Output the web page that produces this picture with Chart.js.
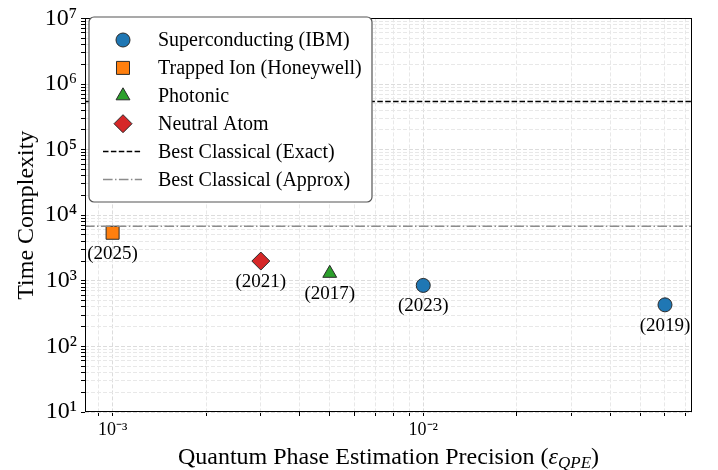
<!DOCTYPE html>
<html>
<head>
<meta charset="utf-8">
<script src="https://cdn.jsdelivr.net/npm/chart.js@4.4.0/dist/chart.umd.min.js"></script>
<style>
html, body { margin: 0; padding: 0; background: #fff; }
#wrap { width: 718px; height: 470px; }
</style>
</head>
<body>
<div id="wrap"><canvas id="qpeChart"></canvas></div>
<script>
// values
const seriesNames = ['Superconducting (IBM)', 'Trapped Ion (Honeywell)', 'Photonic', 'Neutral Atom'];
const scPrecision = [0.01, 0.06];
const scTime = [850, 430];
const scYears = ['(2023)', '(2019)'];
const ionPrecision = [0.001];
const ionTime = [5400];
const ionYears = ['(2025)'];
const photonPrecision = [0.005];
const photonTime = [1300];
const photonYears = ['(2017)'];
const atomPrecision = [0.003];
const atomTime = [2000];
const atomYears = ['(2021)'];

const classicalNames = ['Best Classical (Exact)', 'Best Classical (Approx)'];
const classicalTime = [5.4e5, 6800];

const xRange = [0.000815, 0.0733];
const yRange = [10, 1e7];
const xMajorTicks = [0.001, 0.01];
const xTickLabels = ['10\u207B\u00B3', '10\u207B\u00B2'];
const yMajorTicks = [10, 100, 1000, 1e4, 1e5, 1e6, 1e7];
const yTickLabels = ['10\u00B9', '10\u00B2', '10\u00B3', '10\u2074', '10\u2075', '10\u2076', '10\u2077'];

const SERIF = '"Liberation Serif", "Times New Roman", serif';

function pts(xs, ys) {
    return xs.map((x, i) => ({x: x, y: ys[i]}));
}

// 1..9 x each decade, kept inside the axis range
function logTicks(majors, lo, hi) {
    const out = [];
    [majors[0] / 10].concat(majors).forEach(d => {
        for (let m = 1; m <= 9; m++) {
            const v = +(m * d).toPrecision(6);
            if (v >= lo && v <= hi) out.push(v);
        }
    });
    return out;
}

function marker(label, data, years, color, style, radius) {
    return {
        type: 'scatter',
        label: label,
        data: data,
        years: years,
        backgroundColor: color,
        borderColor: '#2b2b2b',
        borderWidth: 1,
        pointStyle: style,
        pointRadius: radius,
        pointHoverRadius: radius
    };
}

function hline(label, y, color, dash) {
    return {
        type: 'line',
        label: label,
        data: [{x: xRange[0], y: y}, {x: xRange[1], y: y}],
        borderColor: color,
        borderWidth: 1.5,
        borderDash: dash,
        pointRadius: 0,
        fill: false
    };
}

const datasets = [
    hline(classicalNames[0], classicalTime[0], '#000000', [5.5, 2.4]),
    hline(classicalNames[1], classicalTime[1], '#8c8c8c', [9.6, 2.4, 1.5, 2.4]),
    marker(seriesNames[0], pts(scPrecision, scTime), scYears, '#1f77b4', 'circle', 7),
    marker(seriesNames[1], pts(ionPrecision, ionTime), ionYears, '#ff7f0e', 'rect', 9.2),
    marker(seriesNames[2], pts(photonPrecision, photonTime), photonYears, '#2ca02c', 'triangle', 8),
    marker(seriesNames[3], pts(atomPrecision, atomTime), atomYears, '#d62728', 'rectRot', 9)
];

const yearLabels = {
    id: 'yearLabels',
    afterDatasetsDraw(chart) {
        const ctx = chart.ctx;
        ctx.save();
        ctx.font = '19px ' + SERIF;
        ctx.fillStyle = '#000';
        ctx.textAlign = 'center';
        ctx.textBaseline = 'middle';
        chart.data.datasets.forEach((ds, i) => {
            if (!ds.years) return;
            chart.getDatasetMeta(i).data.forEach((el, j) => {
                ctx.fillText(ds.years[j], el.x, el.y + 21);
            });
        });
        ctx.restore();
    }
};

const frameAndTitles = {
    id: 'frameAndTitles',
    afterDraw(chart) {
        const ctx = chart.ctx;
        const a = chart.chartArea;
        ctx.save();
        ctx.strokeStyle = '#000';
        ctx.lineWidth = 1;
        ctx.strokeRect(Math.round(a.left) + 0.5, Math.round(a.top) + 0.5,
            Math.round(a.right - a.left) - 1, Math.round(a.bottom - a.top) - 1);

        ctx.fillStyle = '#000';
        // y title
        ctx.save();
        ctx.translate(27, (a.top + a.bottom) / 2);
        ctx.rotate(-Math.PI / 2);
        ctx.font = '24px ' + SERIF;
        ctx.textAlign = 'center';
        ctx.textBaseline = 'middle';
        ctx.fillText('Time Complexity', 0, 0);
        ctx.restore();

        // x title with italic epsilon and subscript
        const main = 'Quantum Phase Estimation Precision (';
        const fMain = '24px ' + SERIF;
        const fEps = 'italic 24px ' + SERIF;
        const fSub = 'italic 17px ' + SERIF;
        ctx.font = fMain; const w1 = ctx.measureText(main).width; const w4 = ctx.measureText(')').width;
        ctx.font = fEps; const w2 = ctx.measureText('\u03B5').width;
        ctx.font = fSub; const w3 = ctx.measureText('QPE').width;
        let x = (a.left + a.right) / 2 - (w1 + w2 + w3 + w4) / 2;
        const base = 464;
        ctx.textAlign = 'left';
        ctx.textBaseline = 'alphabetic';
        ctx.font = fMain; ctx.fillText(main, x, base); x += w1;
        ctx.font = fEps; ctx.fillText('\u03B5', x, base); x += w2;
        ctx.font = fSub; ctx.fillText('QPE', x, base + 4); x += w3;
        ctx.font = fMain; ctx.fillText(')', x, base);
        ctx.restore();
    }
};

const boxLegend = {
    id: 'boxLegend',
    afterDraw(chart) {
        const ctx = chart.ctx;
        const bx = 89, by = 17, bw = 283, bh = 185, r = 5;
        ctx.save();
        ctx.beginPath();
        ctx.moveTo(bx + r, by);
        ctx.arcTo(bx + bw, by, bx + bw, by + bh, r);
        ctx.arcTo(bx + bw, by + bh, bx, by + bh, r);
        ctx.arcTo(bx, by + bh, bx, by, r);
        ctx.arcTo(bx, by, bx + bw, by, r);
        ctx.closePath();
        ctx.fillStyle = '#fff';
        ctx.fill();
        ctx.strokeStyle = '#555';
        ctx.lineWidth = 1.2;
        ctx.stroke();

        const markers = chart.data.datasets.filter(d => d.years);
        const lines = chart.data.datasets.filter(d => !d.years);
        const rows = markers.concat(lines);
        const rowY0 = 40, rowStep = 27.9, mx = 123, tx = 158;
        rows.forEach((ds, i) => {
            const y = rowY0 + i * rowStep;
            if (ds.years) {
                ctx.fillStyle = ds.backgroundColor;
                ctx.strokeStyle = ds.borderColor;
                ctx.lineWidth = ds.borderWidth;
                ctx.setLineDash([]);
                Chart.helpers.drawPoint(ctx, {
                    pointStyle: ds.pointStyle, radius: ds.pointRadius, rotation: 0, borderWidth: ds.borderWidth
                }, mx, y);
            } else {
                ctx.strokeStyle = ds.borderColor;
                ctx.lineWidth = ds.borderWidth;
                ctx.setLineDash(ds.borderDash);
                ctx.beginPath();
                ctx.moveTo(103, y);
                ctx.lineTo(142, y);
                ctx.stroke();
                ctx.setLineDash([]);
            }
            ctx.fillStyle = '#000';
            ctx.font = '20px ' + SERIF;
            ctx.textAlign = 'left';
            ctx.textBaseline = 'middle';
            ctx.fillText(ds.label, tx, y + 1);
        });
        ctx.restore();
    }
};

function gridColor(majors) {
    return c => (c.tick && majors.includes(c.tick.value)) ? '#dcdcdc' : '#e8e8e8';
}

const ctx = document.getElementById('qpeChart');
new Chart(ctx, {
    data: { datasets: datasets },
    plugins: [yearLabels, frameAndTitles, boxLegend],
    options: {
        responsive: true,
        maintainAspectRatio: false,
        animation: false,
        events: [],
        layout: { padding: { left: 0, right: 26, top: 14, bottom: 0 } },
        plugins: {
            legend: { display: false },
            tooltip: { enabled: false }
        },
        scales: {
            x: {
                type: 'logarithmic',
                min: xRange[0],
                max: xRange[1],
                afterBuildTicks: s => {
                    s.ticks = logTicks(xMajorTicks, xRange[0], xRange[1]).map(v => ({value: v}));
                },
                afterFit: s => { s.height = 58; },
                ticks: {
                    autoSkip: false,
                    maxRotation: 0,
                    padding: 3,
                    color: '#000',
                    font: { family: SERIF, size: 18 },
                    callback: v => {
                        const i = xMajorTicks.indexOf(v);
                        return i >= 0 ? xTickLabels[i] : '';
                    }
                },
                grid: {
                    color: gridColor(xMajorTicks),
                    lineWidth: 1,
                    drawTicks: true,
                    tickLength: 4,
                    tickColor: '#000'
                },
                border: { display: false, dash: [4, 2] }
            },
            y: {
                type: 'logarithmic',
                min: yRange[0],
                max: yRange[1],
                afterBuildTicks: s => {
                    s.ticks = logTicks(yMajorTicks, yRange[0], yRange[1]).map(v => ({value: v}));
                },
                afterFit: s => { s.width = 85; },
                ticks: {
                    autoSkip: false,
                    padding: 4,
                    color: '#000',
                    font: { family: SERIF, size: 24 },
                    callback: v => {
                        const i = yMajorTicks.indexOf(v);
                        return i >= 0 ? yTickLabels[i] : '';
                    }
                },
                grid: {
                    color: gridColor(yMajorTicks),
                    lineWidth: 1,
                    drawTicks: true,
                    tickLength: 4,
                    tickColor: '#000'
                },
                border: { display: false, dash: [4, 2] }
            }
        }
    }
});
</script>
</body>
</html>
